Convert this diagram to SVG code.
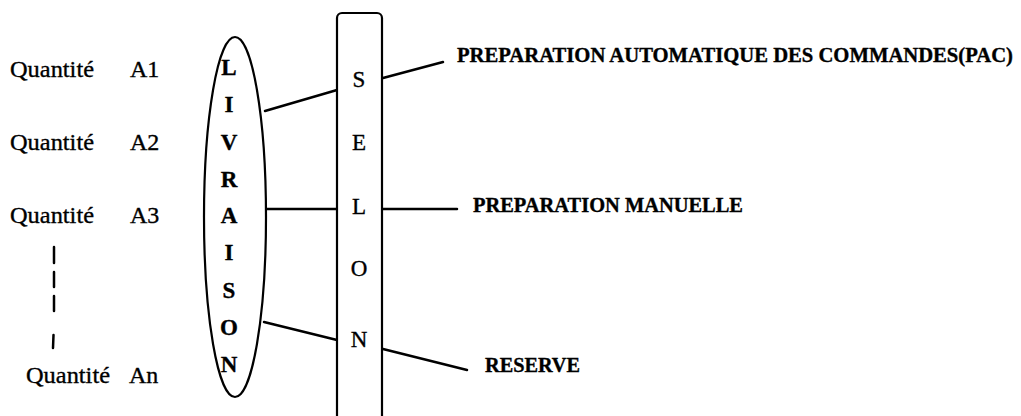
<svg xmlns="http://www.w3.org/2000/svg" width="1021" height="416" viewBox="0 0 1021 416">
  <style>
    text { font-family: "Liberation Serif", "Times New Roman", serif; fill: #000; stroke: #000; stroke-width: 0.35; }
    .qty { font-size: 24px; }
    .vert { font-size: 23px; text-anchor: middle; }
    .vbold { font-size: 23px; font-weight: bold; text-anchor: middle; }
    .lbl { font-size: 20px; font-weight: bold; }
    .ln { stroke: #000; stroke-width: 2.5; fill: none; stroke-linecap: round; }
    .shape { stroke: #000; stroke-width: 2.2; fill: #fff; }
  </style>

  <!-- quantities list -->
  <g id="quantites">
    <text class="qty" x="10" y="77" textLength="84" lengthAdjust="spacingAndGlyphs">Quantité</text>
    <text class="qty" x="130" y="77">A1</text>
    <text class="qty" x="10" y="150" textLength="84" lengthAdjust="spacingAndGlyphs">Quantité</text>
    <text class="qty" x="130" y="150">A2</text>
    <text class="qty" x="10" y="223" textLength="84" lengthAdjust="spacingAndGlyphs">Quantité</text>
    <text class="qty" x="130" y="223">A3</text>
    <g class="ln">
      <line x1="54" y1="247" x2="54" y2="263"/>
      <line x1="54" y1="272" x2="54" y2="287"/>
      <line x1="54" y1="296" x2="54" y2="311"/>
      <line x1="53.5" y1="335" x2="53" y2="348"/>
    </g>
    <text class="qty" x="26" y="383" textLength="84" lengthAdjust="spacingAndGlyphs">Quantité</text>
    <text class="qty" x="129" y="383">An</text>
  </g>

  <!-- connectors -->
  <g id="connecteurs" class="ln">
    <line x1="265" y1="111" x2="337" y2="90"/>
    <line x1="266" y1="209" x2="337" y2="209"/>
    <line x1="264" y1="322" x2="337" y2="340"/>
    <line x1="383" y1="78" x2="443" y2="62"/>
    <line x1="383" y1="209" x2="457" y2="209"/>
    <line x1="383" y1="349" x2="467" y2="370"/>
  </g>

  <!-- LIVRAISON ellipse -->
  <g id="livraison">
    <ellipse class="shape" cx="235" cy="217" rx="31" ry="180"/>
    <text class="vbold" x="229" y="75">L</text>
    <text class="vbold" x="229" y="112">I</text>
    <text class="vbold" x="229" y="150">V</text>
    <text class="vbold" x="229" y="187">R</text>
    <text class="vbold" x="229" y="223">A</text>
    <text class="vbold" x="229" y="260">I</text>
    <text class="vbold" x="229" y="298">S</text>
    <text class="vbold" x="229" y="335">O</text>
    <text class="vbold" x="229" y="372">N</text>
  </g>

  <!-- SELON column -->
  <g id="selon">
    <rect class="shape" x="337" y="13" width="45" height="420" rx="5"/>
    <text class="vert" x="359" y="87">S</text>
    <text class="vert" x="359" y="150">E</text>
    <text class="vert" x="359" y="214">L</text>
    <text class="vert" x="359" y="276">O</text>
    <text class="vert" x="359" y="347">N</text>
  </g>

  <!-- destinations -->
  <g id="pac">
    <text class="lbl" x="457" y="62" textLength="556" lengthAdjust="spacingAndGlyphs">PREPARATION AUTOMATIQUE DES COMMANDES(PAC)</text>
  </g>
  <g id="manuelle">
    <text class="lbl" x="473" y="212" textLength="270" lengthAdjust="spacingAndGlyphs">PREPARATION MANUELLE</text>
  </g>
  <g id="reserve">
    <text class="lbl" x="485" y="372" textLength="95" lengthAdjust="spacingAndGlyphs">RESERVE</text>
  </g>
</svg>
